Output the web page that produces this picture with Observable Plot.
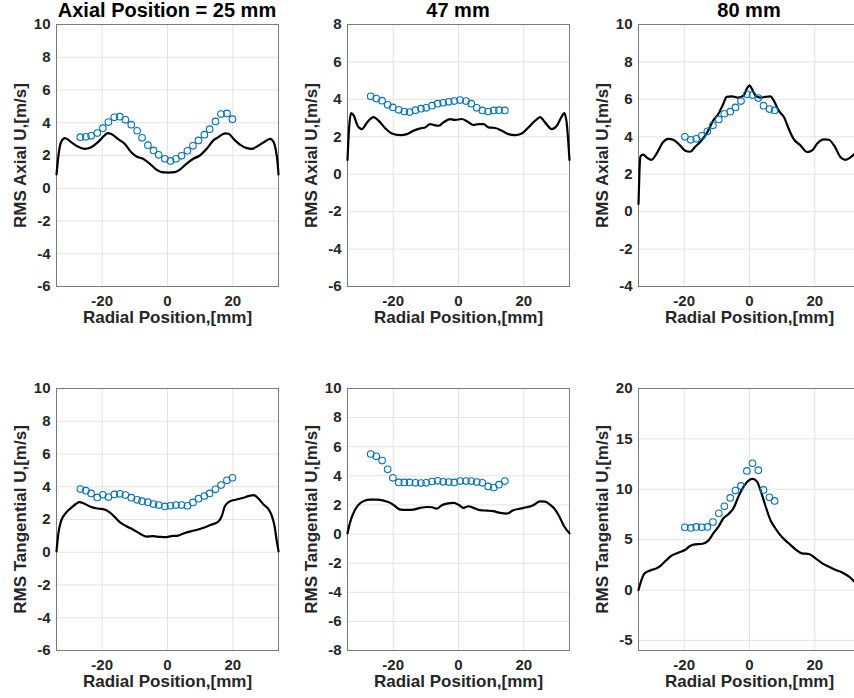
<!DOCTYPE html>
<html><head><meta charset="utf-8">
<script src="https://cdn.jsdelivr.net/npm/d3@7"></script>
<script src="https://cdn.jsdelivr.net/npm/@observablehq/plot@0.6"></script>
<style>
html,body{margin:0;padding:0;background:#fff;overflow:hidden;}
#wrap{position:relative;width:854px;height:698px;overflow:hidden;font-family:"Liberation Sans",Arial,Helvetica,sans-serif;}
.panel{position:absolute;width:286px;height:332px;}
.panel svg{max-width:none !important;}
.title{position:absolute;width:320px;text-align:center;font-weight:bold;font-size:20px;line-height:20px;color:#000;white-space:nowrap;}
</style></head><body><div id="wrap"></div>
<script>
// ---- axes / labels ----
const xTicks = [-20, 0, 20];
const xDomain = [-34, 34];
const xLabel = "Radial Position,[mm]";
const titles = ["Axial Position = 25 mm", "47 mm", "80 mm"];
const yLabelAxial = "RMS Axial U,[m/s]";
const yLabelTang = "RMS Tangential U,[m/s]";
const yTicksA25 = [-6, -4, -2, 0, 2, 4, 6, 8, 10];
const yTicksA47 = [-6, -4, -2, 0, 2, 4, 6, 8];
const yTicksA80 = [-4, -2, 0, 2, 4, 6, 8, 10];
const yTicksT25 = [-6, -4, -2, 0, 2, 4, 6, 8, 10];
const yTicksT47 = [-8, -6, -4, -2, 0, 2, 4, 6, 8, 10];
const yTicksT80 = [-5, 0, 5, 10, 15, 20];
const yDomA25 = [-6, 10], yDomA47 = [-6, 8], yDomA80 = [-4, 10];
const yDomT25 = [-6, 10], yDomT47 = [-8, 10], yDomT80 = [-6, 20];

// ---- experiment radial positions ----
const expX25 = [-26.7, -25.0, -23.4, -21.5, -19.8, -18.1, -16.3, -14.6, -12.9, -11.1, -9.3, -7.8, -6.0, -4.3, -2.7, -0.8, 0.9, 2.6, 4.3, 6.1, 7.8, 9.5, 11.3, 12.9, 14.7, 16.4, 18.2, 19.9];
const expX47 = [-26.9, -25.2, -23.4, -21.7, -20.1, -18.3, -16.6, -15.0, -13.2, -11.5, -9.9, -8.1, -6.4, -4.7, -3.0, -1.3, 0.5, 2.3, 3.9, 5.6, 7.3, 9.1, 10.8, 12.4, 14.2];
const expX80 = [-19.8, -18.0, -16.3, -14.6, -12.9, -11.2, -9.4, -7.7, -5.9, -4.3, -2.6, -0.8, 0.9, 2.7, 4.3, 6.1, 7.7];

// ---- experiment values ----
const expAxial25 = [3.12, 3.14, 3.2, 3.37, 3.67, 4.04, 4.33, 4.37, 4.18, 3.88, 3.51, 3.08, 2.63, 2.31, 2.04, 1.8, 1.67, 1.8, 1.98, 2.29, 2.59, 2.92, 3.27, 3.61, 4.08, 4.53, 4.57, 4.22];
const expAxial47 = [4.16, 4.04, 3.93, 3.71, 3.57, 3.44, 3.35, 3.32, 3.42, 3.5, 3.55, 3.66, 3.77, 3.82, 3.87, 3.91, 3.96, 3.91, 3.77, 3.55, 3.41, 3.35, 3.41, 3.42, 3.41];
const expAxial80 = [4.0, 3.84, 3.89, 4.05, 4.29, 4.61, 4.93, 5.23, 5.34, 5.57, 5.91, 6.27, 6.23, 6.07, 5.66, 5.48, 5.41];
const expTang25 = [3.86, 3.76, 3.59, 3.35, 3.51, 3.37, 3.53, 3.57, 3.49, 3.33, 3.2, 3.12, 3.06, 2.94, 2.88, 2.8, 2.84, 2.88, 2.88, 2.84, 3.04, 3.27, 3.43, 3.59, 3.84, 4.1, 4.39, 4.55];
const expTang47 = [5.5, 5.34, 5.05, 4.45, 3.86, 3.55, 3.55, 3.55, 3.52, 3.5, 3.52, 3.61, 3.66, 3.59, 3.57, 3.55, 3.64, 3.64, 3.64, 3.57, 3.52, 3.27, 3.2, 3.39, 3.64];
const expTang80 = [6.23, 6.16, 6.26, 6.23, 6.26, 6.75, 7.62, 8.31, 9.14, 9.87, 10.33, 11.82, 12.58, 11.89, 9.93, 9.21, 8.84];

// ---- simulation curves ----
const cfdAxial25X = [-34, -33.4, -32.6, -31.4, -29.5, -27.5, -25.4, -23.4, -21.3, -19.3, -18.3, -17.2, -15.2, -13.1, -11.1, -9.5, -7.5, -5.4, -3.4, -1.8, 0.2, 2.3, 3.8, 5.8, 7.9, 9.9, 12.0, 14.05, 15.6, 17.6, 18.7, 20.2, 22.3, 24.3, 25.8, 27.9, 29.9, 31.5, 32.5, 33.2, 33.7, 34];
const cfdAxial25Y = [0.84, 2.0, 2.82, 3.06, 2.82, 2.55, 2.41, 2.51, 2.82, 3.22, 3.37, 3.31, 3.02, 2.71, 2.2, 1.94, 1.8, 1.49, 1.14, 0.98, 0.96, 0.98, 1.14, 1.49, 1.8, 2.0, 2.41, 2.92, 3.12, 3.35, 3.33, 3.02, 2.65, 2.45, 2.41, 2.61, 2.86, 3.02, 2.82, 2.31, 1.59, 0.84];
const cfdAxial47X = [-34, -33.5, -32.9, -32.1, -30.9, -29.6, -28.0, -26.0, -24.5, -22.4, -20.4, -17.8, -15.8, -13.8, -11.7, -10.2, -8.7, -7.6, -6.1, -4.6, -2.5, -1.0, 1.0, 2.6, 4.6, 6.1, 7.7, 9.2, 11.2, 13.3, 15.3, 17.3, 19.4, 21.4, 23.5, 25.0, 26.5, 28.6, 30.1, 31.6, 32.4, 33.1, 34];
const cfdAxial47Y = [0.76, 2.5, 3.26, 3.14, 2.59, 2.41, 2.77, 3.05, 2.86, 2.45, 2.18, 2.09, 2.14, 2.32, 2.45, 2.5, 2.68, 2.63, 2.59, 2.77, 2.94, 2.9, 2.95, 2.83, 2.63, 2.68, 2.68, 2.5, 2.47, 2.32, 2.14, 2.09, 2.18, 2.5, 2.86, 3.05, 2.77, 2.41, 2.59, 3.08, 3.26, 2.8, 0.76];
const cfdAxial80X = [-34, -33.7, -33.4, -32.6, -31.4, -30.0, -28.5, -26.5, -24.9, -23.4, -21.3, -19.8, -18.2, -16.7, -14.7, -12.9, -11.1, -9.5, -8.0, -7.0, -5.4, -3.4, -1.8, -0.8, 0.0, 0.7, 1.8, 3.3, 4.8, 6.4, 7.4, 8.9, 10.7, 12.0, 13.5, 15.6, 17.7, 19.2, 20.7, 22.8, 24.3, 25.9, 27.9, 29.4, 31.0, 32.2, 34];
const cfdAxial80Y = [0.41, 2.2, 2.95, 3.05, 2.88, 2.77, 3.09, 3.71, 3.89, 3.84, 3.54, 3.27, 3.2, 3.45, 3.8, 4.25, 4.88, 5.23, 5.77, 6.13, 6.16, 6.09, 6.21, 6.57, 6.75, 6.57, 6.21, 6.09, 6.13, 6.16, 5.95, 5.41, 5.0, 4.43, 3.89, 3.54, 3.18, 3.27, 3.63, 3.86, 3.84, 3.54, 2.91, 2.77, 2.91, 3.09, 3.4];
const cfdTang25X = [-34, -33.4, -32.6, -31.1, -29.5, -28.0, -27.0, -25.4, -23.4, -21.3, -19.3, -17.8, -16.2, -14.7, -12.6, -10.6, -8.5, -6.5, -4.4, -2.4, -0.8, 1.2, 3.3, 5.3, 7.4, 9.4, 11.5, 13.5, 15.6, 16.6, 17.6, 19.2, 21.2, 23.3, 24.8, 26.4, 27.9, 29.4, 31.0, 32.0, 32.8, 33.4, 34];
const cfdTang25Y = [0.05, 1.18, 1.9, 2.41, 2.71, 2.96, 3.06, 2.96, 2.76, 2.67, 2.61, 2.45, 2.16, 1.86, 1.59, 1.39, 1.14, 0.96, 0.98, 0.94, 0.92, 0.98, 1.02, 1.18, 1.29, 1.39, 1.53, 1.69, 1.88, 2.2, 2.82, 3.12, 3.22, 3.33, 3.43, 3.49, 3.27, 2.92, 2.61, 2.2, 1.59, 0.78, 0.05];
const cfdTang47X = [-34, -33.1, -31.9, -30.6, -29.0, -27.0, -25.0, -22.9, -20.9, -19.4, -17.8, -15.8, -13.8, -11.7, -9.7, -8.1, -6.6, -5.1, -3.6, -1.5, 0.0, 1.5, 3.1, 4.6, 6.6, 8.7, 10.7, 12.8, 14.8, 16.8, 18.9, 20.9, 22.9, 25.0, 26.5, 28.0, 29.6, 31.1, 32.3, 34];
const cfdTang47Y = [0.05, 0.89, 1.57, 2.02, 2.27, 2.36, 2.36, 2.3, 2.14, 1.91, 1.68, 1.66, 1.68, 1.8, 1.86, 1.84, 1.75, 1.98, 2.09, 2.14, 2.02, 1.8, 1.91, 1.8, 1.64, 1.61, 1.57, 1.45, 1.41, 1.64, 1.75, 1.84, 1.98, 2.25, 2.23, 2.02, 1.68, 1.11, 0.55, 0.05];
const cfdTang80X = [-34, -33.1, -32.1, -30.6, -28.5, -27.0, -25.4, -23.9, -21.8, -19.8, -18.2, -16.7, -14.7, -12.6, -11.1, -9.5, -8.0, -6.5, -4.9, -3.4, -1.8, -0.3, 1.0, 2.3, 3.5, 4.8, 6.4, 7.9, 10.0, 12.0, 14.1, 16.1, 18.2, 20.2, 22.3, 24.3, 26.4, 28.4, 30.5, 32.2, 34];
const cfdTang80Y = [0.0, 0.99, 1.66, 1.92, 2.15, 2.48, 2.98, 3.41, 3.71, 3.97, 4.37, 4.54, 4.57, 4.9, 5.63, 6.29, 7.12, 7.52, 8.11, 9.27, 10.26, 10.86, 11.03, 10.76, 9.77, 8.44, 6.95, 6.13, 5.23, 4.64, 4.04, 3.64, 3.58, 3.15, 2.65, 2.32, 1.99, 1.75, 1.32, 0.83, 0.35];

const FONT = '"Liberation Sans", Arial, Helvetica, sans-serif';
const INK = "#262626";

function makePanel(cfg) {
  const cfd = cfg.cfdX.map((x, i) => ({x, y: cfg.cfdY[i]}));
  const exp = cfg.expX.map((x, i) => ({x, y: cfg.expY[i]}));
  return Plot.plot({
    width: 286, height: 332,
    marginLeft: 56, marginRight: 8, marginTop: 24, marginBottom: 46,
    style: {fontFamily: FONT, fontWeight: "bold", fontSize: "15px", color: INK, background: "transparent", overflow: "visible", maxWidth: "none"},
    x: {domain: xDomain},
    y: {domain: cfg.yDomain},
    marks: [
      Plot.gridX(xTicks, {stroke: "#e3e3e3", strokeOpacity: 1}),
      Plot.gridY(cfg.yTicks, {stroke: "#e3e3e3", strokeOpacity: 1}),
      Plot.frame({stroke: "#7a7a7a", strokeWidth: 1}),
      Plot.axisX(xTicks, {tickSize: 0, tickPadding: 9, tickFormat: d => String(d), label: null, fill: INK, fontSize: 15, fontWeight: "bold"}),
      Plot.axisY(cfg.yTicks, {tickSize: 0, tickPadding: 6, tickFormat: d => String(d), label: null, fill: INK, fontSize: 15, fontWeight: "bold"}),
      Plot.line(cfd, {x: "x", y: "y", stroke: "#000", strokeWidth: 2.2, curve: "monotone-x"}),
      Plot.dot(exp, {x: "x", y: "y", r: 3.3, stroke: "#0072BD", strokeWidth: 1.1, fill: "none"}),
      Plot.text([xLabel], {text: d => d, frameAnchor: "bottom", textAnchor: "middle", lineAnchor: "middle", dy: 31.5, fontSize: 17, fontWeight: "bold", fill: INK}),
      Plot.text([cfg.yLabel], {text: d => d, frameAnchor: "left", textAnchor: "middle", lineAnchor: "middle", dx: -36, rotate: -90, fontSize: 17, fontWeight: "bold", fill: INK})
    ]
  });
}

const wrap = document.getElementById("wrap");
const cols = [0, 291, 582];
const rows = [0, 364];
const cfgs = [
  {yDomain: yDomA25, yTicks: yTicksA25, yLabel: yLabelAxial, cfdX: cfdAxial25X, cfdY: cfdAxial25Y, expX: expX25, expY: expAxial25},
  {yDomain: yDomA47, yTicks: yTicksA47, yLabel: yLabelAxial, cfdX: cfdAxial47X, cfdY: cfdAxial47Y, expX: expX47, expY: expAxial47},
  {yDomain: yDomA80, yTicks: yTicksA80, yLabel: yLabelAxial, cfdX: cfdAxial80X, cfdY: cfdAxial80Y, expX: expX80, expY: expAxial80},
  {yDomain: yDomT25, yTicks: yTicksT25, yLabel: yLabelTang, cfdX: cfdTang25X, cfdY: cfdTang25Y, expX: expX25, expY: expTang25},
  {yDomain: yDomT47, yTicks: yTicksT47, yLabel: yLabelTang, cfdX: cfdTang47X, cfdY: cfdTang47Y, expX: expX47, expY: expTang47},
  {yDomain: yDomT80, yTicks: yTicksT80, yLabel: yLabelTang, cfdX: cfdTang80X, cfdY: cfdTang80Y, expX: expX80, expY: expTang80}
];
cfgs.forEach((cfg, i) => {
  const div = document.createElement("div");
  div.className = "panel";
  div.style.left = cols[i % 3] + "px";
  div.style.top = rows[Math.floor(i / 3)] + "px";
  div.appendChild(makePanel(cfg));
  wrap.appendChild(div);
});
titles.forEach((t, i) => {
  const d = document.createElement("div");
  d.className = "title";
  d.textContent = t;
  d.style.left = (cols[i] + 56 + 111 - 160) + "px";
  d.style.top = "0px";
  wrap.appendChild(d);
});
</script>
</body></html>
